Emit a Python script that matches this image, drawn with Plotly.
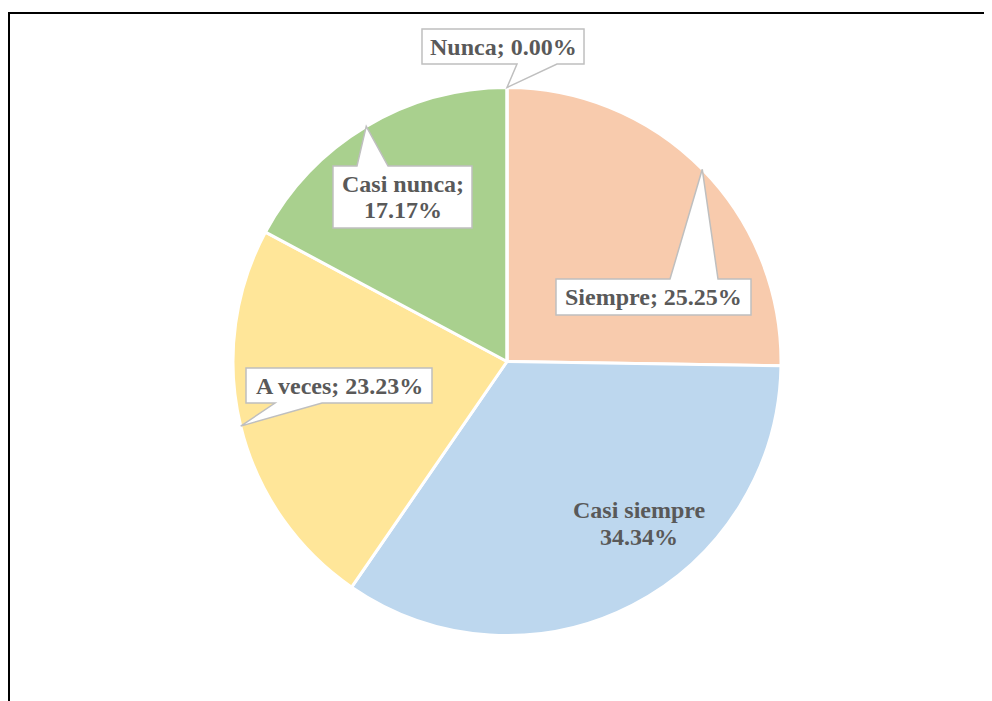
import math
import plotly.graph_objects as go

# ---- data ----
categories = ["Siempre", "Casi siempre", "A veces", "Casi nunca", "Nunca"]
percentages = [25.25, 34.34, 23.23, 17.17, 0.00]
colors = ["#F8CBAD", "#BDD7EE", "#FFE699", "#A9D08E", "#D9D9D9"]

# ---- layout constants (pixels, screen coords, y down) ----
OFF = 8                               # page body margin offset
W, H = 992 - OFF, 701 - OFF           # figure size so the page does not overflow
CX, CY, R = 507, 361.5, 274          # pie centre / radius
TEXT_COLOR = "#595959"
FONT = "Liberation Serif"
FSIZE = 24
LINE_GAP = 27

# callout boxes: category -> (x0, y0, x1, y1, wedge edge, base_a, base_b)
callouts = {
    "Nunca":      (422, 29, 584, 64, "bottom", 517, 557),
    "Casi nunca": (333, 166, 472, 228, "top", 357, 388),
    "Siempre":    (556, 279, 751, 315, "top", 670, 718),
    "A veces":    (246, 368, 432, 403, "bottom", 275, 322),
}
label_lines = {
    "Nunca": ["Nunca; 0.00%"],
    "Casi nunca": ["Casi nunca;", "17.17%"],
    "Siempre": ["Siempre; 25.25%"],
    "A veces": ["A veces; 23.23%"],
}
inside_label = ("Casi siempre", ["Casi siempre", "34.34%"], 639, 523)


def px(x):
    return (x - OFF) / W


def py(y):
    return 1 - (y - OFF) / H


fig = go.Figure()
fig.add_trace(go.Pie(
    labels=categories,
    values=percentages,
    sort=False,
    direction="clockwise",
    rotation=0,
    marker=dict(colors=colors, line=dict(color="white", width=3)),
    textinfo="none",
    hoverinfo="skip",
    showlegend=False,
    domain=dict(x=[px(CX - R), px(CX + R)], y=[py(CY + R), py(CY - R)]),
))

# compute mid-angles from the data
total = sum(percentages)
mid_angle = {}
acc = 0.0
for c, v in zip(categories, percentages):
    mid_angle[c] = (acc + v / 2) / total * 360.0
    acc += v

shapes = []
annotations = []


def add_lines(lines, cx, cy):
    n = len(lines)
    for i, t in enumerate(lines):
        yy = cy + (i - (n - 1) / 2) * LINE_GAP
        annotations.append(dict(text=t, x=px(cx), y=py(yy),
                                xref="paper", yref="paper", showarrow=False,
                                xanchor="center", yanchor="middle", align="center",
                                font=dict(family=FONT, size=FSIZE, color=TEXT_COLOR,
                                          weight="bold")))


for cat, (x0, y0, x1, y1, edge, ba, bb) in callouts.items():
    th = math.radians(mid_angle[cat])
    tx = CX + R * math.sin(th)
    ty = CY - R * math.cos(th)
    if edge == "top":
        pts = [(x0, y0), (ba, y0), (tx, ty), (bb, y0), (x1, y0), (x1, y1), (x0, y1)]
    else:
        pts = [(x0, y0), (x1, y0), (x1, y1), (bb, y1), (tx, ty), (ba, y1), (x0, y1)]
    path = "M " + " L ".join(f"{px(a):.5f},{py(b):.5f}" for a, b in pts) + " Z"
    shapes.append(dict(type="path", path=path, xref="paper", yref="paper",
                       fillcolor="white", line=dict(color="#BFBFBF", width=1.5),
                       layer="above"))
    add_lines(label_lines[cat], (x0 + x1) / 2, (y0 + y1) / 2)

add_lines(inside_label[1], inside_label[2], inside_label[3])

# outer chart frame (cropped at right/bottom)
shapes.append(dict(type="rect", xref="paper", yref="paper",
                   x0=px(9), y0=py(720), x1=px(1010), y1=py(13),
                   line=dict(color="black", width=2), fillcolor="rgba(0,0,0,0)",
                   layer="above"))

fig.update_layout(
    width=W, height=H,
    margin=dict(l=0, r=0, t=0, b=0),
    paper_bgcolor="white", plot_bgcolor="white",
    shapes=shapes, annotations=annotations,
    showlegend=False,
)

fig.write_html(
    "out.html",
    post_script="document.documentElement.style.overflow='hidden';"
                "document.body.style.overflow='hidden';",
)
